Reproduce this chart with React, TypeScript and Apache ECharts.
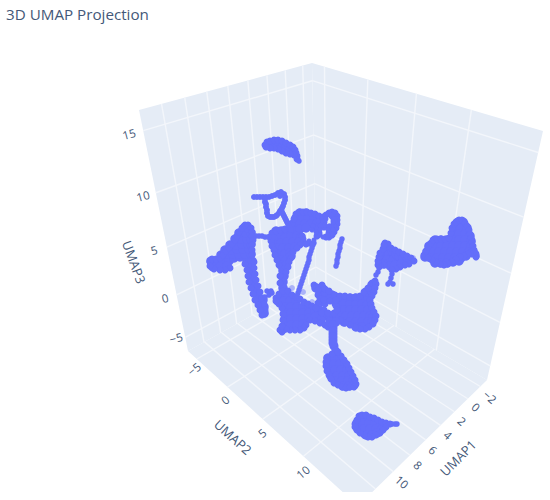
import React, { useEffect, useRef } from "react";
import * as echarts from "echarts";

type P = number[];

// Projected points of the UMAP clusters
const topCluster: P[] = [[269,144],[273,144],[277,145],[281,146],[285,147],[289,149],[293,151],[265,145],[267,142],[270,141],[274,140],[278,140],[282,141],[286,143],[290,145],[293,147],[295,150],[296,153],[297,156],[297,159],[294,155],[290,154],[286,153],[282,151],[278,149],[274,148],[270,148],[266,147]];
const leftBody: P[] = [[211,261],[217,261],[223,261],[229,261],[213,267],[220,267],[227,266],[234,258],[240,257],[247,261],[252,261],[221,255],[227,254],[233,254],[239,254],[245,254],[251,254],[225,250],[231,250],[237,249],[243,249],[249,249],[230,245],[236,245],[242,244],[248,244],[251,244],[235,239],[241,239],[247,239],[251,239],[239,233],[246,233],[251,233],[245,227],[248,228],[251,268],[252,274],[253,280],[254,286],[256,292],[258,298],[260,304],[262,309],[264,313],[263,300],[264,307]];
const leftEdge: P[] = [[210,262],[212,259],[216,259],[220,258],[223,255],[226,251],[229,248],[232,244],[235,240],[237,236],[239,232],[242,228],[245,225],[248,225],[251,228],[252,232],[252,236],[253,240],[252,245],[252,250],[252,255],[254,262],[254,268],[255,274],[256,280],[258,286],[260,292],[262,298],[264,304],[265,310],[265,314],[262,315],[260,310],[258,305],[255,300],[253,294],[251,288],[249,282],[248,276],[247,270],[245,264],[230,268],[225,270],[220,270],[214,269],[210,266]];
const mainHead: P[] = [[300,213],[306,213],[296,218],[302,218],[308,218],[314,218],[320,219],[293,224],[299,224],[305,224],[311,224],[317,224],[276,231],[282,231],[288,230],[294,230],[300,229],[306,228],[273,236],[279,236],[285,238],[291,236],[297,236],[301,237],[275,242],[281,243],[287,242],[293,242],[299,242],[277,248],[283,248],[289,248],[295,247],[279,254],[285,254],[290,253],[280,260],[286,260],[291,256],[281,265],[286,265],[283,270],[284,276],[283,282],[283,288],[283,293]];
const mainEdge: P[] = [[296,214],[299,212],[303,212],[307,212],[311,213],[315,214],[319,216],[323,217],[326,215],[329,213],[332,212],[335,213],[337,216],[337,220],[337,224],[336,228],[334,232],[332,235],[329,237],[332,216],[334,220],[333,226],[331,229],[330,227],[324,222],[324,227],[320,226],[316,222],[315,228],[319,233],[317,236],[326,237],[329,233],[303,242],[309,243],[306,244],[302,236],[270,237],[272,233],[276,231],[280,230],[285,229],[289,228],[292,224],[294,219],[271,241],[272,246],[274,250],[275,255],[277,260],[279,265],[282,272],[300,245],[297,248],[293,252],[291,258],[289,262],[288,267],[286,272],[284,278],[280,276],[280,283]];
const headFill: P[] = [[326,219],[333,222],[325,225],[329,226],[328,230],[320,230],[320,235],[323,237],[328,235],[333,230],[333,234],[309,241],[314,240],[304,239],[313,226],[318,221],[312,230],[316,232]];
const centralMass: P[] = [[282,296],[288,296],[278,301],[284,301],[290,301],[296,301],[285,307],[291,307],[297,307],[303,307],[309,307],[285,313],[291,313],[297,313],[303,313],[309,313],[315,311],[321,314],[327,316],[285,319],[291,319],[297,319],[303,319],[309,318],[315,317],[321,320],[285,325],[291,325],[297,325],[303,324],[283,329]];
const centralEdge: P[] = [[276,298],[279,294],[283,291],[288,291],[292,295],[296,297],[300,299],[304,302],[308,304],[312,306],[316,308],[320,309],[324,310],[310,320],[315,321],[320,323],[325,325],[328,327],[306,325],[304,328],[300,330],[295,330],[290,330],[286,329],[282,332],[280,330],[282,326],[283,320],[283,314],[282,308],[279,304],[276,301]];
const lowerRightMass: P[] = [[316,288],[322,288],[320,294],[326,294],[332,295],[323,300],[330,299],[338,298],[344,298],[350,298],[356,298],[362,298],[368,298],[366,292],[372,291],[372,285],[339,304],[344,304],[350,304],[356,304],[362,304],[367,305],[339,310],[344,310],[350,310],[356,310],[362,310],[368,310],[340,316],[346,316],[352,316],[358,316],[364,316],[370,316],[373,317],[344,322],[350,322],[356,322],[362,322],[368,322],[372,322],[356,327],[362,327],[330,316],[335,319]];
const lowerRightEdge: P[] = [[314,285],[317,287],[322,285],[325,289],[329,291],[335,295],[340,296],[345,296],[350,297],[355,297],[360,296],[364,292],[368,288],[372,283],[375,281],[376,284],[375,288],[374,292],[372,296],[370,300],[371,304],[372,308],[374,312],[376,316],[375,320],[373,324],[369,327],[365,329],[360,329],[355,327],[350,325],[345,323],[340,320],[336,318],[318,290],[318,295],[320,299],[322,303],[325,304],[335,304],[318,303],[324,300],[316,308],[336,306],[330,301],[336,300],[322,313],[328,313],[334,313],[337,310]];
const stem: P[] = [[333,322],[330,322],[336,322],[333,328],[333,334],[333,340],[334,346],[333,325],[333,331],[333,337],[333,343]];
const lowerBlob: P[] = [[336,352],[328,358],[334,358],[340,358],[328,364],[334,364],[340,364],[345,364],[329,370],[335,370],[341,370],[347,370],[331,376],[337,376],[343,376],[349,376],[336,381],[342,381],[348,381],[353,381],[343,386],[349,386],[354,385]];
const lowerBlobEdge: P[] = [[336,350],[332,354],[327,358],[326,362],[326,366],[327,371],[329,375],[331,379],[334,383],[338,385],[342,387],[346,388],[350,387],[354,387],[356,384],[355,380],[353,376],[351,372],[349,368],[347,364],[344,360],[341,356],[338,352]];
const bottomBlob: P[] = [[361,417],[367,418],[357,423],[363,423],[369,423],[375,423],[381,425],[358,429],[364,429],[370,429],[376,429],[382,429],[366,435],[372,435],[377,433]];
const bottomBlobEdge: P[] = [[355,424],[357,420],[359,416],[362,415],[366,415],[370,417],[374,418],[378,420],[382,422],[386,423],[390,424],[386,427],[383,430],[380,433],[376,435],[372,437],[368,437],[364,435],[360,433],[357,430],[355,427]];
const midRightCluster: P[] = [[385,248],[383,254],[389,254],[392,256],[381,260],[387,260],[393,260],[399,261],[380,263],[384,264],[390,266],[395,265],[403,262],[408,261],[392,251],[396,254],[399,256],[403,258],[407,260],[401,264]];
const midRightEdge: P[] = [[385,243],[388,244],[391,248],[395,250],[399,252],[403,254],[407,256],[411,258],[414,261],[409,264],[405,265],[400,267],[396,269],[392,270],[384,265],[380,266],[378,265],[378,261],[379,257],[380,253],[383,249],[384,245]];
const farRightBlob: P[] = [[458,222],[463,222],[455,228],[461,228],[467,228],[453,234],[459,234],[465,234],[470,236],[435,240],[441,240],[447,240],[453,240],[459,240],[465,240],[471,241],[429,246],[435,246],[441,246],[447,246],[453,246],[459,246],[465,246],[471,246],[427,252],[433,252],[439,252],[445,252],[451,252],[457,252],[463,252],[469,252],[473,252],[425,257],[431,258],[437,258],[443,258],[449,258],[455,258],[461,258],[466,256],[435,263],[441,263],[447,263],[453,262],[459,261]];
const farRightEdge: P[] = [[424,255],[426,251],[428,247],[431,243],[433,240],[437,239],[441,239],[445,239],[449,238],[451,233],[452,228],[454,224],[456,222],[459,220],[462,220],[465,223],[467,226],[469,230],[470,234],[471,238],[472,242],[473,246],[474,250],[476,254],[476,257],[472,254],[468,254],[464,256],[460,257],[456,259],[452,262],[448,264],[444,265],[440,264],[436,262],[432,260],[428,258]];
const coreFill: P[] = [[300,222],[310,221],[283,250],[440,250],[452,250],[460,246],[295,312],[292,320],[350,310],[360,312],[338,372],[345,378],[368,427],[236,252],[243,243]];
const smallLoop: P[] = [[254,197],[257,197],[260,197],[263,197],[266,197],[269,197],[272,196],[275,195],[278,193],[281,192],[284,194],[285,197],[280,196],[285,200],[284,203],[283,206],[282,208],[280,211],[279,213],[277,215],[276,216],[274,217],[272,217],[270,217],[268,216],[267,213],[267,210],[266,207],[266,204],[265,202],[265,199],[281,210],[282,212],[283,214],[284,216],[285,218],[286,220],[287,222],[288,224],[289,226],[290,228],[291,230]];
const thinStrands: P[] = [[256,236],[259,236],[262,236],[265,237],[268,237],[271,237],[274,237],[314,243],[313,245],[312,248],[311,251],[310,254],[309,257],[309,260],[308,263],[307,266],[306,269],[305,272],[304,275],[303,278],[302,281],[301,284],[300,287],[299,290],[298,293],[297,296],[342,239],[341,242],[340,245],[340,248],[339,251],[338,254],[338,257],[337,260],[337,263],[336,266],[392,424],[395,424],[397,424],[379,268],[378,272],[376,275],[392,274],[391,278],[390,282],[388,284],[393,284],[477,256],[476,253],[265,297],[269,295],[272,293],[267,291],[271,291],[299,161]];
const faintPoints: P[] = [[413,258],[292,288],[303,292],[312,302],[263,297],[278,258]];

const umap1TickLabels = ["\u22122", "0", "2", "4", "6", "8", "10"];
const umap2TickLabels = ["\u22125", "0", "5", "10"];
const umap3TickLabels = ["\u22125", "0", "5", "10", "15"];

// Layout of the projected scene
const B = [316, 280], APEX = [312, 63], L = [188, 351], TL = [139, 110], R = [487, 380], RT = [543, 131], F = [358, 506];
const umap1Lines = [0, 1, 2, 3, 4, 5, 6, 7];
const umap2Lines = [0, 1, 2, 3];
const umap3Lines = [0, 1, 2, 3, 4];
const U1 = (k: number) => 0.065 + 0.118 * k;
const U2 = (k: number) => 0.07 + 0.225 * k;
const U3 = (k: number) => 0.075 + 0.215 * k;
const umap1Anchors = [[490,397],[476,407],[462,421],[448,435],[433,450],[418,465],[402,482]];
const umap2Anchors = [[194,369],[225,400],[262,433],[303,472]];
const umap3Anchors = [[176,338],[165,298],[154,250],[143,196],[129,134]];

function quad(p00: number[], p10: number[], p11: number[], p01: number[]) {
  const dx1 = p10[0] - p11[0], dx2 = p01[0] - p11[0], sx = p00[0] - p10[0] + p11[0] - p01[0];
  const dy1 = p10[1] - p11[1], dy2 = p01[1] - p11[1], sy = p00[1] - p10[1] + p11[1] - p01[1];
  const den = dx1 * dy2 - dx2 * dy1;
  const g = (sx * dy2 - dx2 * sy) / den, h = (dx1 * sy - sx * dy1) / den;
  const a = p10[0] - p00[0] + g * p10[0], b = p01[0] - p00[0] + h * p01[0], c = p00[0];
  const d = p10[1] - p00[1] + g * p10[1], e = p01[1] - p00[1] + h * p01[1], f = p00[1];
  return (u: number, v: number) => {
    const w = g * u + h * v + 1;
    return [(a * u + b * v + c) / w, (d * u + e * v + f) / w];
  };
}

const GRID = "#f3f6fb";
const PANE = "#E5ECF6";
const TEXT = "#445878";
const FONT = "Open Sans";

function gridSegments(): number[][][] {
  const leftWall = quad(B, L, TL, APEX);
  const rightWall = quad(B, R, RT, APEX);
  const floor = quad(B, L, F, R);
  const segs: number[][][] = [];
  umap1Lines.forEach((k) => {
    segs.push([leftWall(U1(k), 0), leftWall(U1(k), 1)]);
    segs.push([floor(U1(k), 0), floor(U1(k), 1)]);
  });
  umap2Lines.forEach((k) => {
    segs.push([rightWall(U2(k), 0), rightWall(U2(k), 1)]);
    segs.push([floor(0, U2(k)), floor(1, U2(k))]);
  });
  umap3Lines.forEach((k) => {
    segs.push([leftWall(0, U3(k)), leftWall(1, U3(k))]);
    segs.push([rightWall(0, U3(k)), rightWall(1, U3(k))]);
  });
  return segs;
}

function sceneSeries() {
  const panes = [[B, L, TL, APEX], [B, R, RT, APEX], [B, L, F, R]];
  const segs = gridSegments();
  return {
    type: "custom",
    name: "scene",
    silent: true,
    clip: true,
    z: 1,
    data: [0],
    encode: { x: [], y: [] },
    renderItem: (_p: any, api: any) => ({
      type: "group",
      children: [
        ...panes.map((pts) => ({
          type: "polygon",
          shape: { points: pts.map((q) => api.coord(q)) },
          style: { fill: PANE },
        })),
        ...segs.map(([a, b]) => {
          const p = api.coord(a), q = api.coord(b);
          return {
            type: "line",
            shape: { x1: p[0], y1: p[1], x2: q[0], y2: q[1] },
            style: { stroke: GRID, lineWidth: 1.4 },
          };
        }),
      ],
    }),
  };
}

function label(text: string, p: number[], deg: number, size: number) {
  return { type: "text", z: 5, x: p[0], y: p[1], rotation: (deg * Math.PI) / 180, style: { text, fill: TEXT, font: `${size}px "${FONT}"`, align: "center", verticalAlign: "middle" } };
}

function labelElements() {
  const els: any[] = [];
  umap1TickLabels.forEach((t, i) => els.push(label(t, umap1Anchors[i], -42, 11.5)));
  umap2TickLabels.forEach((t, i) => els.push(label(t, umap2Anchors[i], 40, 11.5)));
  umap3TickLabels.forEach((t, i) => els.push(label(t, umap3Anchors[i], 15, 11.5)));
  els.push(label("UMAP1", [458, 458], 45, 13));
  els.push(label("UMAP2", [233, 437], -42, 13));
  els.push(label("UMAP3", [134, 262], -70, 13));
  return els;
}

function dots(name: string, data: P[], symbolSize: number, opacity = 1) {
  return { name, type: "scatter", z: 3, data, symbolSize, silent: true, itemStyle: { color: "#636EFA", opacity } };
}

export default function App() {
  const ref = useRef<HTMLDivElement>(null);
  useEffect(() => {
    const chart = echarts.init(ref.current!, undefined, { renderer: "svg" });
    chart.setOption({
      animation: false,
      backgroundColor: "#ffffff",
      title: { text: "3D UMAP Projection", left: 6, top: 6, padding: 0, textStyle: { color: TEXT, fontFamily: FONT, fontSize: 15.2, fontWeight: "normal" } },
      grid: { left: 0, right: 0, top: 0, height: 492 },
      xAxis: { type: "value", min: 0, max: 550, show: false },
      yAxis: { type: "value", min: 0, max: 492, inverse: true, show: false },
      graphic: { elements: labelElements() },
      series: [
        sceneSeries(),
        dots("faint", faintPoints, 6, 0.45),
        dots("core", coreFill, 14),
        dots("top", topCluster, 7),
        dots("left body", leftBody, 9.5),
        dots("left edge", leftEdge, 7),
        dots("main head", mainHead, 9.5),
        dots("main edge", mainEdge, 7),
        dots("head fill", headFill, 5),
        dots("central", centralMass, 9.5),
        dots("central edge", centralEdge, 7),
        dots("lower right", lowerRightMass, 9.5),
        dots("lower right edge", lowerRightEdge, 7),
        dots("stem", stem, 9),
        dots("lower blob", lowerBlob, 9.5),
        dots("lower blob edge", lowerBlobEdge, 7),
        dots("bottom blob", bottomBlob, 9.5),
        dots("bottom blob edge", bottomBlobEdge, 7),
        dots("mid right", midRightCluster, 9),
        dots("mid right edge", midRightEdge, 7),
        dots("far right", farRightBlob, 9.5),
        dots("far right edge", farRightEdge, 7),
        dots("small loop", smallLoop, 6),
        dots("strands", thinStrands, 5.5),
      ],
    });
    return () => chart.dispose();
  }, []);
  return <div ref={ref} style={{ position: "absolute", left: 0, top: 0, width: 550, height: 500 }} />;
}
